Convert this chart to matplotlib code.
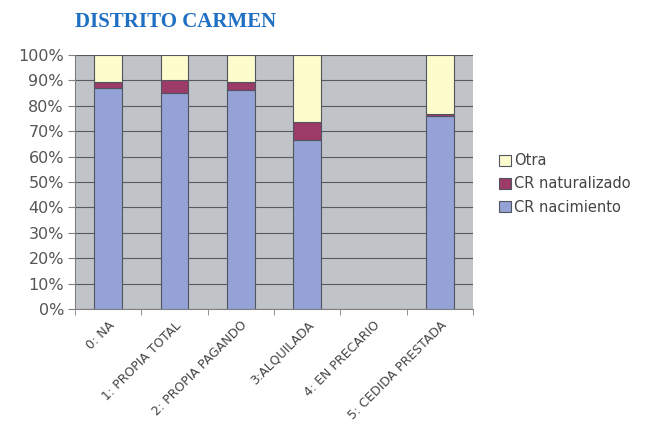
import matplotlib
matplotlib.use("Agg")
import matplotlib.pyplot as plt
import numpy as np

categories = ["0: NA", "1: PROPIA TOTAL", "2: PROPIA PAGANDO", "3:ALQUILADA", "4: EN PRECARIO", "5: CEDIDA PRESTADA"]
cr_nacimiento = [87.1, 85.2, 86.2, 66.5, 0.0, 76.0]
cr_naturalizado = [2.4, 5.0, 3.0, 7.0, 0.0, 0.8]
otra = [10.5, 9.8, 10.8, 26.5, 0.0, 23.2]
yticks = [0, 10, 20, 30, 40, 50, 60, 70, 80, 90, 100]
ytick_labels = [f"{v}%" for v in yticks]

fig = plt.figure(figsize=(6.49, 4.33), dpi=100)
ax = fig.add_axes([75/649, 1-309/433, 398/649, 254/433])
ax.set_facecolor("#C0C3C8")

x = np.arange(len(categories))
w = 0.42
edge = "#505560"
tot = np.array(cr_nacimiento) + np.array(cr_naturalizado) + np.array(otra)
lw = [0.8 if t > 0 else 0 for t in tot]
b1 = ax.bar(x, cr_nacimiento, w, color="#94A2D6", edgecolor=edge, linewidth=lw, zorder=3, label="CR nacimiento")
b2 = ax.bar(x, cr_naturalizado, w, bottom=cr_nacimiento, color="#9C3A68", edgecolor=edge, linewidth=lw, zorder=3, label="CR naturalizado")
bot = np.array(cr_nacimiento) + np.array(cr_naturalizado)
b3 = ax.bar(x, otra, w, bottom=bot, color="#FCFCCC", edgecolor=edge, linewidth=lw, zorder=3, label="Otra")

ax.set_xlim(-0.5, len(categories) - 0.5)
ax.set_ylim(0, 100)
ax.set_yticks(yticks)
ax.set_yticklabels(ytick_labels, fontsize=11.5, color="#555555")
ax.yaxis.grid(True, color="#555a60", linewidth=0.8, zorder=1)
ax.set_xticks(x)
ax.set_xticklabels(categories, rotation=45, ha="right", rotation_mode="anchor", fontsize=9, color="#444444")
ax.set_xticks(np.arange(-0.5, len(categories) + 0.5, 1), minor=True)
ax.tick_params(axis="x", which="major", length=0, pad=7)
ax.tick_params(axis="x", which="minor", length=4, color="#808080", direction="out")
ax.tick_params(axis="y", length=5, color="#808080", direction="out", pad=3)
for s in ["top", "right"]:
    ax.spines[s].set_visible(False)
for s in ["left", "bottom"]:
    ax.spines[s].set_color("#808080")

fig.text(75/649, 1-22/433, "DISTRITO CARMEN", ha="left", va="center", fontsize=15, fontweight="bold",
         family="Liberation Serif", color="#1F6FC2")

leg = fig.legend(handles=[b3, b2, b1], labels=["Otra", "CR naturalizado", "CR nacimiento"],
                 loc="center left", bbox_to_anchor=(486/649, 1-184/433), frameon=False,
                 fontsize=10.5, handlelength=0.8, handleheight=0.8, handletextpad=0.25, labelspacing=0.55)
for t in leg.get_texts():
    t.set_color("#444444")

fig.savefig("out.png", dpi=100, facecolor="white")
